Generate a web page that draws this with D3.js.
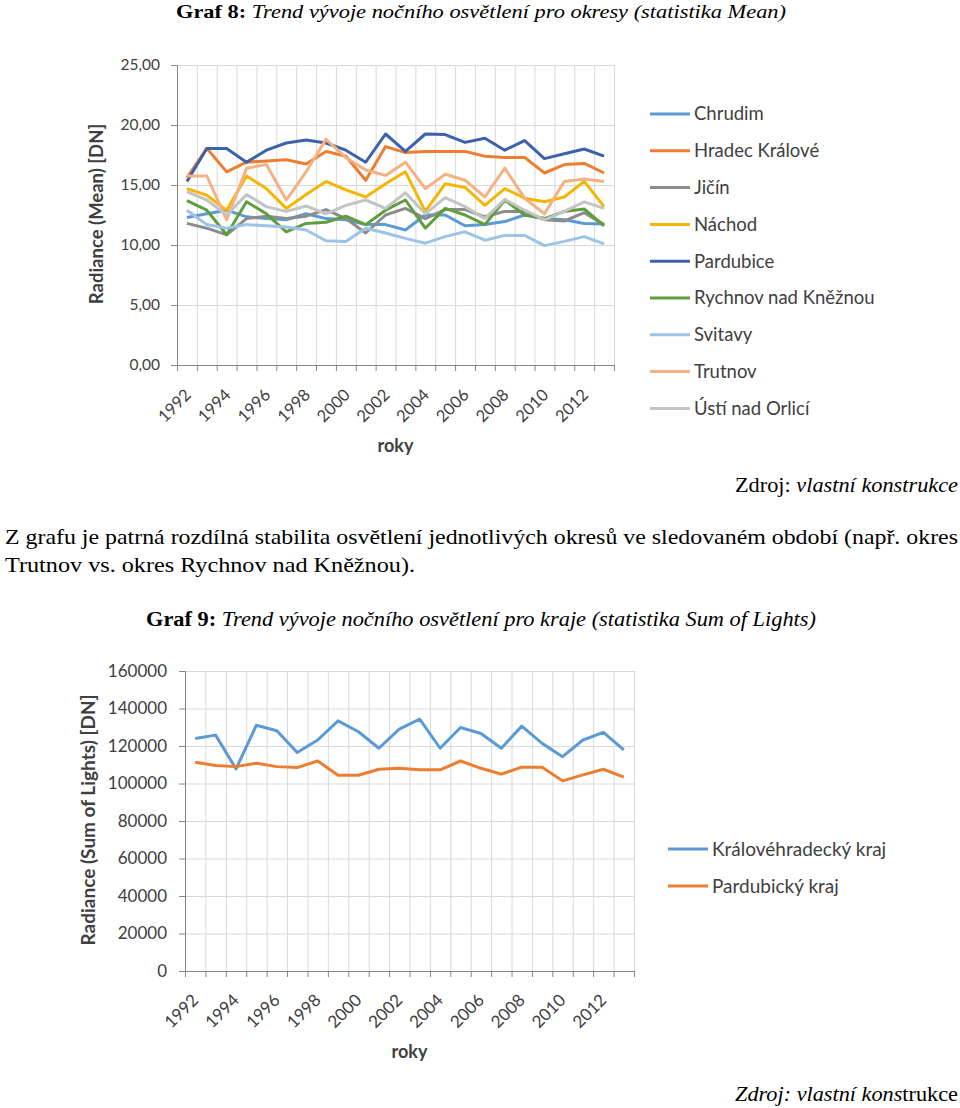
<!DOCTYPE html>
<html><head><meta charset="UTF-8">
<script src="https://d3js.org/d3.v7.min.js"></script>
<style>
body { margin: 0; background: #fff; }
.doc { font-family: "Liberation Serif", "Times New Roman", serif; font-size: 21px; fill: #000; }
.chart text { font-family: Lato, "Open Sans", sans-serif; fill: #404040; }
.grid line { stroke: #d9d9d9; stroke-width: 1; }
.grid path { display: none; }
.axis path, .axis line { stroke: #868686; stroke-width: 1; }
.line { fill: none; stroke-width: 3; stroke-linejoin: round; }
</style>
</head><body>
<svg id="page" width="960" height="1108"></svg>
<script>
// categories (same years for both charts)
var years = ["1992","1993","1994","1995","1996","1997","1998","1999","2000","2001","2002",
             "2003","2004","2005","2006","2007","2008","2009","2010","2011","2012","2013"];
var yearLabels = ["1992","1994","1996","1998","2000","2002","2004","2006","2008","2010","2012"];

// Graf 8 - mean radiance by district
var okresy = ["Chrudim","Hradec Králové","Jičín","Náchod","Pardubice","Rychnov nad Kněžnou","Svitavy","Trutnov","Ústí nad Orlicí"];
var chrudim   = [12.3,12.6,12.9,12.35,12.2,12.1,12.6,12.2,12.1,11.7,11.7,11.25,12.5,12.5,11.6,11.7,11.95,12.5,12.2,12.1,11.8,11.75];
var hradec    = [15.6,18.05,16.1,16.9,17.0,17.1,16.75,17.8,17.4,15.4,18.2,17.7,17.8,17.8,17.8,17.4,17.3,17.3,16.0,16.7,16.8,16.0];
var jicin     = [11.8,11.4,10.85,12.2,12.4,12.2,12.4,12.95,12.2,11.0,12.5,13.05,12.2,12.95,12.95,12.35,12.8,12.8,12.1,12.0,12.7,11.7];
var nachod    = [14.7,14.15,12.9,15.75,14.7,13.05,14.2,15.3,14.6,14.0,15.1,16.1,12.8,15.1,14.8,13.3,14.7,13.9,13.6,14.0,15.3,13.2];
var pardubice = [15.3,18.05,18.05,16.9,17.9,18.5,18.75,18.5,17.9,16.9,19.25,17.8,19.25,19.2,18.55,18.9,17.9,18.7,17.2,17.6,18.0,17.4];
var rychnov   = [13.7,12.9,10.85,13.6,12.6,11.1,11.8,11.9,12.4,11.7,12.9,13.75,11.4,13.05,12.5,11.7,13.75,12.5,12.2,12.8,13.0,11.6];
var svitavy   = [12.9,11.7,11.4,11.7,11.6,11.5,11.25,10.35,10.3,11.4,11.0,10.55,10.15,10.7,11.1,10.4,10.8,10.8,9.95,10.3,10.7,10.1];
var trutnov   = [15.75,15.75,12.1,16.4,16.7,13.75,16.1,18.8,17.3,16.25,15.8,16.9,14.7,15.9,15.4,14.0,16.4,13.9,12.6,15.3,15.5,15.3];
var usti      = [14.45,13.75,12.5,14.2,13.2,12.8,13.25,12.6,13.3,13.75,13.05,14.35,12.6,13.95,13.2,12.2,13.8,12.9,12.1,12.8,13.6,13.05];
var meanTicks = [0,5,10,15,20,25];

// Graf 9 - sum of lights by region
var kraje = ["Královéhradecký kraj","Pardubický kraj"];
var kralovehradecky = [124000,125800,107800,131100,128100,116500,123200,133400,127600,118800,129000,
                       134300,118800,129900,126700,118800,130600,121400,114300,123200,127300,117900];
var pardubicky      = [111300,109600,109000,110800,109000,108500,112000,104400,104400,107600,108100,
                       107300,107300,112000,108100,105000,108700,108700,101400,104600,107600,103400];
var sumTicks = [0,20000,40000,60000,80000,100000,120000,140000,160000];

var okresColors = ["#5b9bd5","#ed7d31","#8c8c8c","#f2b705","#3c62aa","#5e9e3c","#9dc3e6","#f4b183","#c4c4c4"];
var krajColors = ["#5b9bd5","#ed7d31"];

var svg = d3.select("#page");
svg.append("rect").attr("width", 960).attr("height", 1108).attr("fill", "#fff");

var czFmt = d3.formatLocale({decimal: ",", thousands: "", grouping: [3], currency: ["", ""]}).format(".2f");

// document text around the charts
function docLine(x, y, len, parts, size) {
  var t = svg.append("text").attr("class", "doc").attr("x", x).attr("y", y)
    .attr("textLength", len).attr("lengthAdjust", "spacingAndGlyphs");
  if (size) t.style("font-size", size + "px");
  parts.forEach(function(p) {
    t.append("tspan").text(p[0])
      .attr("font-weight", p[1] == "b" ? "bold" : null)
      .attr("font-style", p[1] == "i" ? "italic" : null);
  });
}
docLine(176, 18, 610, [["Graf 8:", "b"], [" Trend vývoje nočního osvětlení pro okresy (statistika Mean)", "i"]], 19);
docLine(735, 492, 223, [["Zdroj: ", ""], ["vlastní konstrukce", "i"]]);
docLine(5, 544, 953, [["Z grafu je patrná rozdílná stabilita osvětlení jednotlivých okresů ve sledovaném období (např. okres", ""]]);
docLine(5, 572, 410, [["Trutnov vs. okres Rychnov nad Kněžnou).", ""]]);
docLine(146, 626, 670, [["Graf 9:", "b"], [" Trend vývoje nočního osvětlení pro kraje (statistika Sum of Lights)", "i"]]);
docLine(735, 1101, 223, [["Zdroj: vlastní kons", "i"], ["trukce", ""]]);

function drawChart(c) {
  var g = svg.append("g").attr("class", "chart");

  var x = d3.scaleBand().domain(years).range([c.x0, c.x1]);
  var xi = d3.scaleLinear().domain([0, years.length]).range([c.x0, c.x1]);
  var y = d3.scaleLinear().domain([c.ticks[0], c.ticks[c.ticks.length - 1]]).range([c.y1, c.y0]);

  // gridlines
  g.append("g").attr("class", "grid")
    .attr("transform", "translate(0," + c.y1 + ")")
    .call(d3.axisBottom(xi).tickValues(d3.range(years.length + 1)).tickSize(-(c.y1 - c.y0)).tickFormat(""));
  g.append("g").attr("class", "grid")
    .attr("transform", "translate(" + c.x0 + ",0)")
    .call(d3.axisLeft(y).tickValues(c.ticks).tickSize(-(c.x1 - c.x0)).tickFormat(""));

  // axes
  var ya = g.append("g").attr("class", "axis")
    .attr("transform", "translate(" + c.x0 + ",0)")
    .call(d3.axisLeft(y).tickValues(c.ticks).tickFormat(c.fmt).tickSizeOuter(0).tickSize(6).tickPadding(c.yPad));
  ya.selectAll("text").style("font-size", c.tickFont + "px").attr("fill", "#404040");

  g.append("g").attr("class", "axis")
    .attr("transform", "translate(0," + c.y1 + ")")
    .call(d3.axisBottom(xi).tickValues(d3.range(years.length + 1)).tickFormat("").tickSizeOuter(0).tickSize(6));

  var xa = g.append("g").attr("class", "axis")
    .attr("transform", "translate(0," + c.y1 + ")")
    .call(d3.axisBottom(x).tickValues(yearLabels).tickSize(0));
  xa.select(".domain").remove();
  xa.selectAll("text")
    .style("font-size", c.xFont + "px").attr("fill", "#404040")
    .attr("x", 0).attr("y", 0).attr("dy", "0.35em")
    .attr("text-anchor", "end")
    .attr("transform", "translate(" + c.xlx + "," + c.xly + ") rotate(-45)");

  // axis titles
  g.append("text").attr("x", (c.x0 + c.x1) / 2 + c.rokyDx).attr("y", c.rokyY)
    .attr("text-anchor", "middle").style("font-size", "18px").style("font-weight", "bold")
    .attr("fill", "#404040").text("roky");
  g.append("text").attr("transform", "translate(" + c.titleX + "," + c.titleY + ") rotate(-90)")
    .attr("text-anchor", "middle").attr("dy", "0.35em")
    .style("font-size", c.titleFont + "px").style("font-weight", "bold")
    .attr("fill", "#404040").text(c.title);

  // lines
  var line = d3.line()
    .x(function(d, i) { return x(years[i]) + x.bandwidth() / 2; })
    .y(function(d) { return y(d); });
  c.series.forEach(function(s, k) {
    g.append("path").datum(s).attr("class", "line")
      .attr("stroke", c.colors[k]).attr("d", line);
  });

  // legend
  var lg = g.append("g").attr("transform", "translate(" + c.lx + "," + c.ly + ")");
  c.names.forEach(function(n, k) {
    var row = lg.append("g").attr("transform", "translate(0," + k * c.lstep + ")");
    row.append("line").attr("x1", 0).attr("x2", 40).attr("y1", 0).attr("y2", 0)
      .attr("stroke", c.colors[k]).attr("stroke-width", 3);
    row.append("text").attr("x", 44).attr("dy", "0.35em")
      .style("font-size", c.legFont + "px").attr("fill", "#404040").text(n);
  });
}

drawChart({
  x0: 177, x1: 614, y0: 65, y1: 365,
  ticks: meanTicks, fmt: czFmt, yPad: 11, tickFont: 15.5, xFont: 16.5, xlx: 1, xly: 27,
  rokyDx: 0, rokyY: 452,
  title: "Radiance (Mean) [DN]", titleX: 97, titleY: 214, titleFont: 18.5,
  series: [chrudim, hradec, jicin, nachod, pardubice, rychnov, svitavy, trutnov, usti],
  names: okresy, colors: okresColors, legFont: 18.5,
  lx: 650, ly: 114, lstep: 36.8
});

drawChart({
  x0: 185, x1: 634, y0: 671, y1: 971,
  ticks: sumTicks, fmt: d3.format("d"), yPad: 12, tickFont: 17, xFont: 17, xlx: 0, xly: 26,
  rokyDx: 0, rokyY: 1058,
  title: "Radiance (Sum of Lights) [DN]", titleX: 88, titleY: 820, titleFont: 19,
  series: [kralovehradecky, pardubicky],
  names: kraje, colors: krajColors, legFont: 19,
  lx: 668, ly: 849, lstep: 37
});
</script>
</body></html>
